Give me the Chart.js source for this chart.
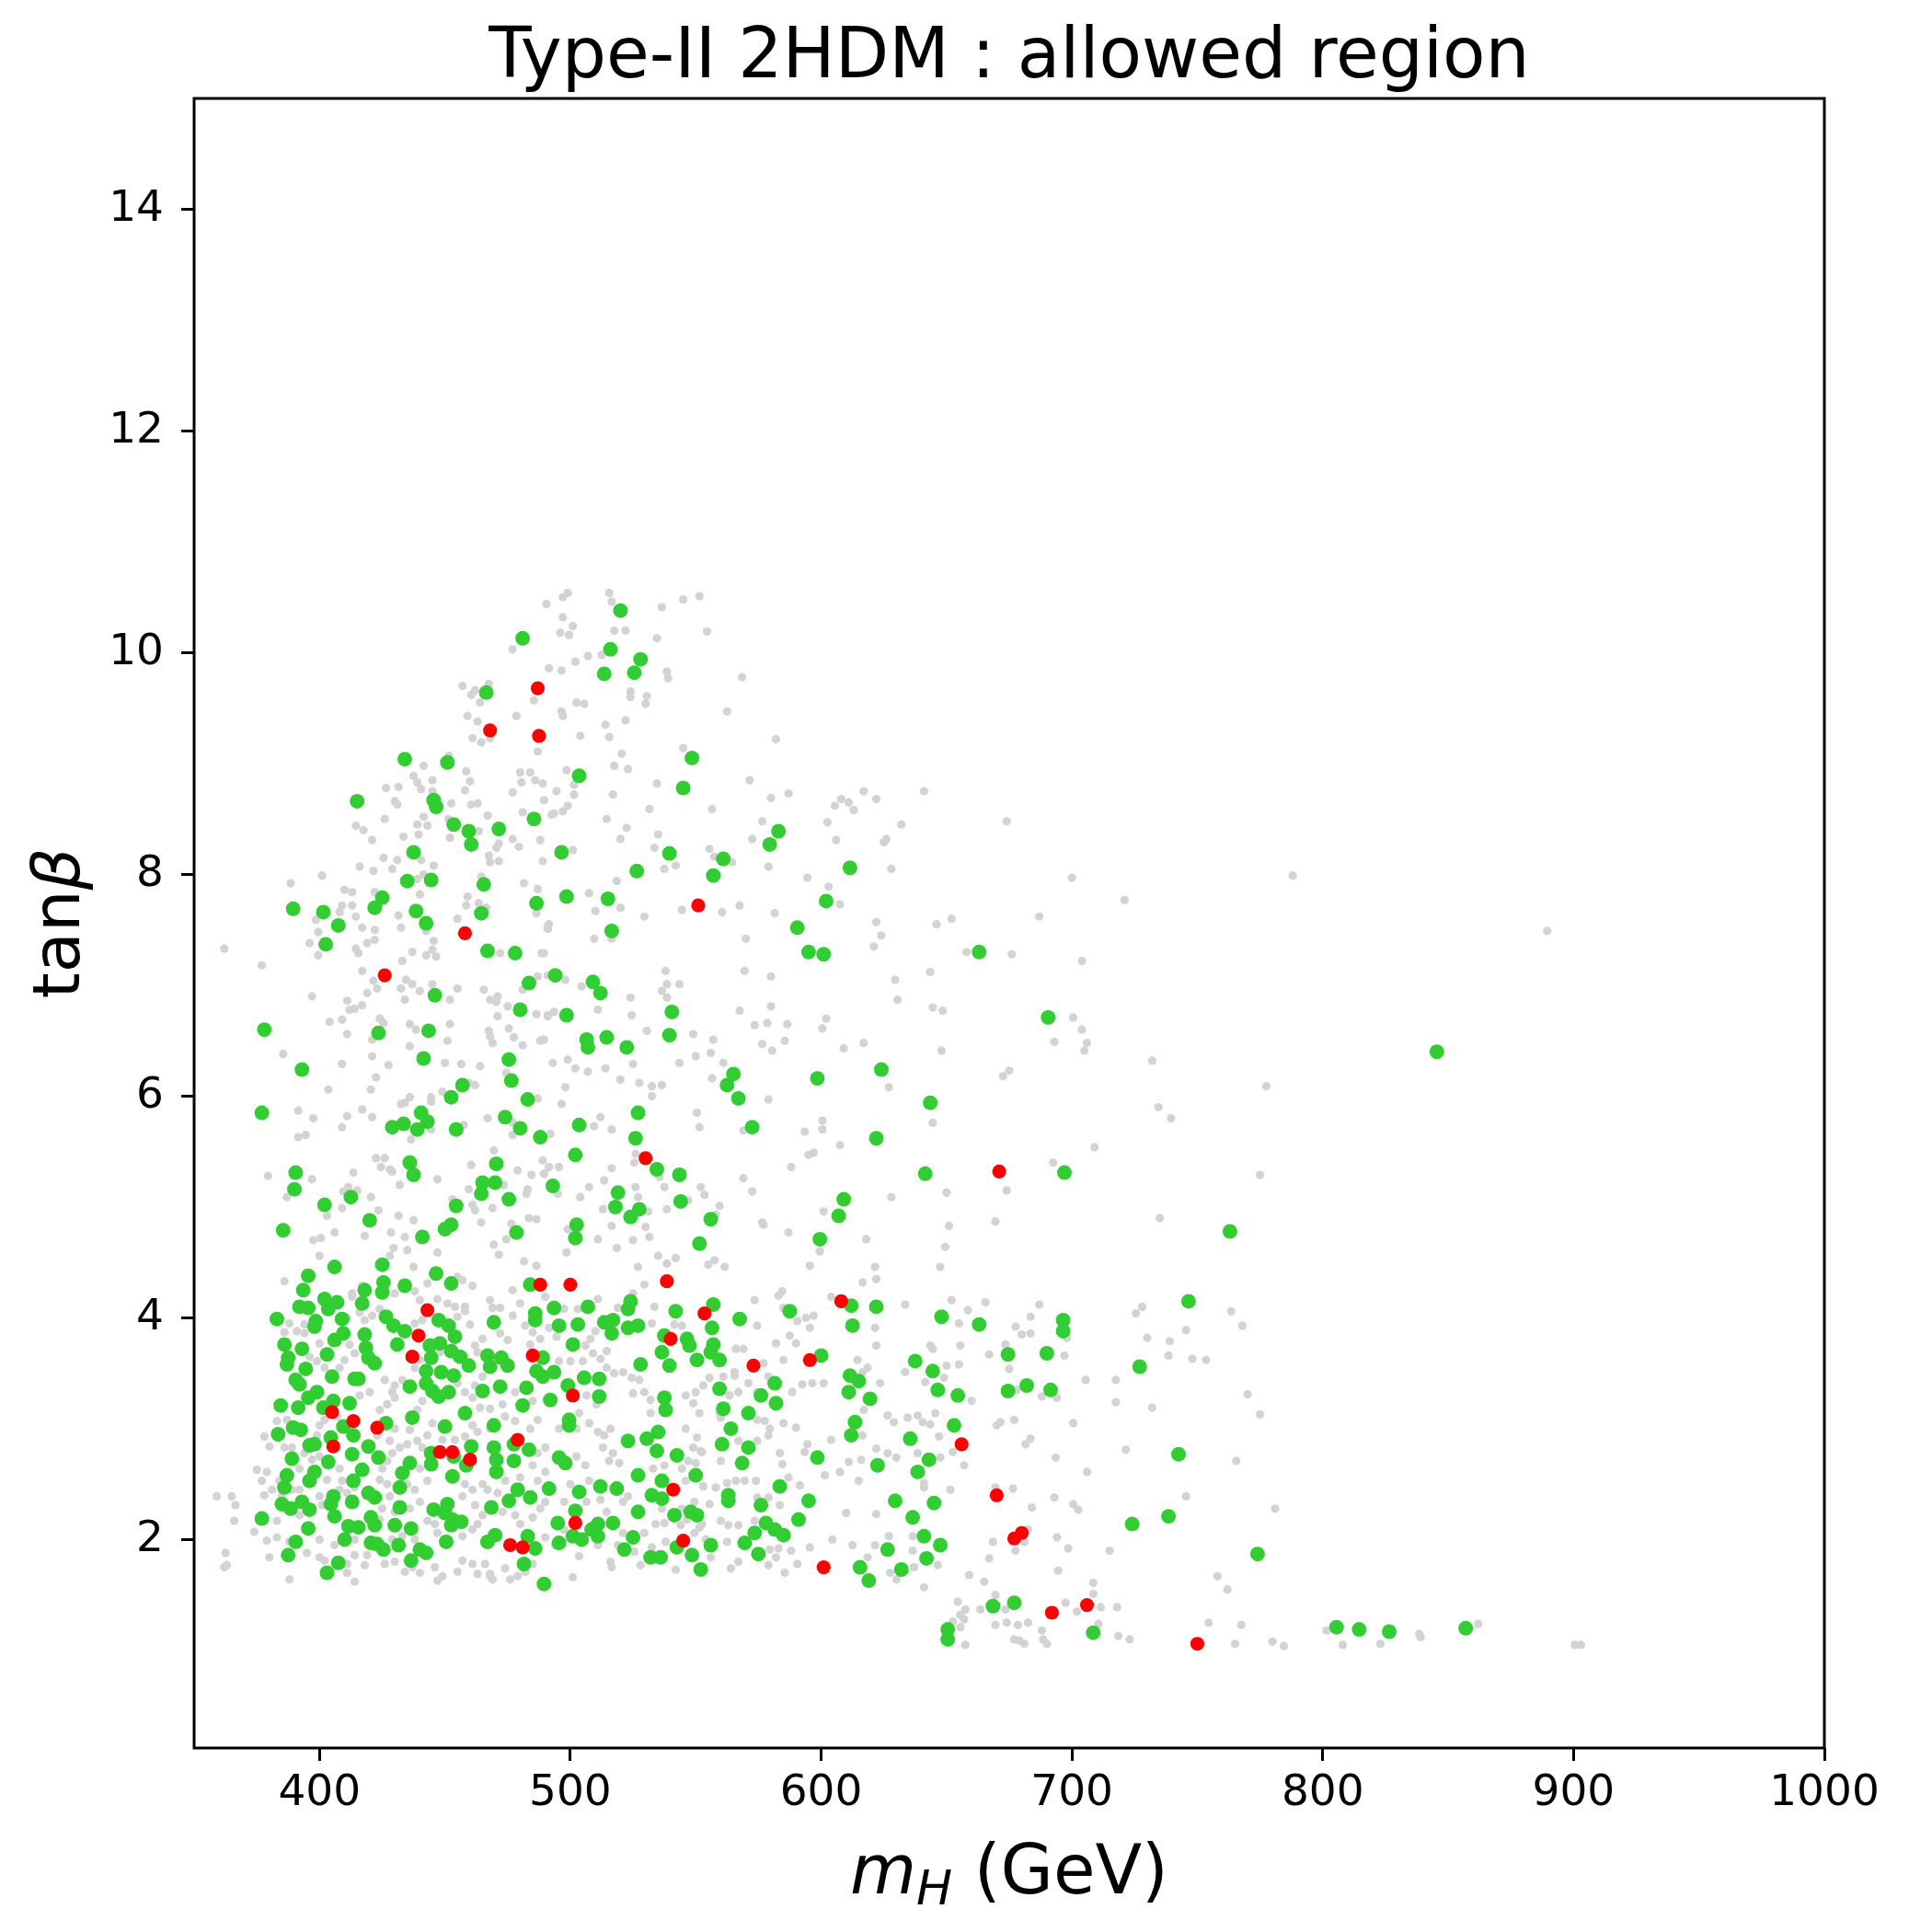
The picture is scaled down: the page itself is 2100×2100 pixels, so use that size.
<!DOCTYPE html>
<html lang="en">
<head>
  <meta charset="UTF-8" />
  <title>Type-II 2HDM : allowed region</title>
  <script src="https://cdn.jsdelivr.net/npm/chart.js@4.4.1/dist/chart.umd.min.js"></script>
  <style>
    html, body {margin: 0; padding: 0; background: #fff;}
    #wrap {width: 2100px; height: 2100px;}
  </style>
</head>
<body>
  <div id="wrap"><canvas id="scan" width="2100" height="2100"></canvas></div>

  <script>
    // axis ticks
    const xTicks = [400, 500, 600, 700, 800, 900, 1000];
    const yTicks = [2, 4, 6, 8, 10, 12, 14];

    // [m_H (GeV), tan(beta)]
    const grayPts = [
      [386,4.33],[359,2.39],[365,2.39],[366.5,2.31],[366,2.17],[375,2.63],[379,2.61],[378,2.93],[380,2.84],[374,2.07],[379,1.99],[383,2.02],[362.5,1.88],[362,1.75],[363,1.77],[380,1.84],[388,1.64],[395,1.88],[388,1.98],[400,1.84],[402,1.81],[411,1.70],[414,1.62],[411,1.78],[418,1.77],[419,1.86],[426,1.78],[430,1.80],[434,1.71],[437,1.75],[440,1.70],[446,1.75],[447,1.63],[449,1.67],[455,1.71],[457,1.81],[461,1.78],[463,1.69],[466,1.78],[468,1.69],[469,1.64],[474,1.74],[482,1.71],
      [413,4.22],[413,4.19],[417,4.29],[430,4.22],[438,4.24],[440,4.16],[443,4.31],[447,4.17],[451,4.13],[454,4.10],[455,4.37],[457,4.34],[461,4.29],[468,4.16],[469,4.09],[472,4.09],[477,4.25],[480,4.13],[490,4.19],[477,4.02],[482,3.93],[485,3.87],[488,3.81],[484,3.76],[475,3.80],[472,3.86],[465,3.81],[462,3.75],[458,3.65],[463,3.69],[460,3.94],[458,4.06],[455,4.01],[458,4.10],[441,3.98],[438,3.95],[424,4.08],[421,4.02],[418,3.98],[416,4.05],[411,4.00],[412,3.76],[410,3.62],[414,3.68],[408,3.55],[402,3.55],[399,3.61],[396,3.65],[394,3.86],[391,3.88],[386,3.87],[388,3.95],[394,3.94],[400,3.77],
      [426,3.44],[430,3.39],[429,3.33],[433,3.44],[438,3.55],[440,3.62],[448,3.69],[455,3.41],[458,3.33],[462,3.39],[465,3.47],[461,3.28],[464,3.19],[468,3.18],[473,3.22],[478,3.33],[485,3.25],[487,3.08],[484,3.00],[478,3.07],[474,3.11],[468,3.00],[463,2.97],[461,3.03],[458,2.93],[454,2.90],[449,2.90],[445,3.05],[441,3.25],[439,3.17],[430,3.28],[427,3.22],[424,3.17],[420,3.33],[416,3.30],[407,3.11],[402,3.08],[400,3.03],[399,2.94],[387,3.08],[383,3.07],[386,2.83],[389,2.83],[394,2.78],[397,2.72],[400,2.75],[408,2.64],[409,2.53],[403,2.54],[392,2.64],[389,2.45],[384,2.53],[381,2.45],[385,2.39],[392,2.45],[400,2.39],[401,2.31],[408,2.45],[411,2.42],[414,2.47],[425,2.64],[427,2.50],[424,2.54],[427,2.71],[429,2.78],[428,2.89],[432,2.83],[435,2.86],[439,2.89],[441,2.83],[443,2.94],[436,2.99],[430,3.00],[423,2.94],[440,2.64],[443,2.53],[435,2.50],[438,2.45],[440,2.34],[436,2.28],[430,2.25],[425,2.28],[428,2.39],[424,2.18],[443,2.17],[446,2.14],[447,2.06],[457,2.03],[461,2.09],[463,2.14],[465,2.22],[462,2.31],[461,2.45],[458,2.50],[457,2.39],[465,2.50],[467,2.45],[471,2.42],[473,2.25],[478,2.22],[480,2.14],[485,2.20],[488,2.28],[490,2.34],[487,2.53],[490,2.61],[485,2.67],[487,2.78],[490,2.83],[480,2.56],[474,2.53],[490,2.02],[485,1.78],[479,1.67],[476,1.64],[468,1.67],[433,2.03],[438,2.00],[429,2.00],[414,2.00],[414,1.86],[406,1.95],[400,2.00],[392,2.22],[383,2.17],[377,2.53],[378,2.40],
      [616.5,4.32],[622,4.35],[621.5,3.91],[622,3.75],[617,3.17],[622,2.82],[616,2.72],[611,2.70],[607.5,2.61],[615,2.53],[601.5,2.58],[610,2.24],[622,2.23],[621.5,1.95],[618.5,1.84],[612.5,1.95],[604.5,2.00],[595.5,1.93],[590.5,1.78],[585.5,1.70],[588,1.90],[582,1.84],[583,1.92],[579.5,1.91],[579,1.77],[567,1.80],[564,1.74],[562.5,1.98],[556,1.84],[542,1.73],[501,1.66],[516.5,1.75],[516,1.80],[528,1.77],[532.5,1.93],[538,1.98],[537.5,2.15],[544,2.13],[552.5,2.14],[560,2.17],[563,2.13],[567,2.13],[573.5,2.17],[574.5,2.38],[579,2.38],[583.5,2.31],[591.5,2.49],[587,2.56],[574,2.53],[569.5,2.53],[566,2.53],[562.5,2.51],[558,2.47],[553,2.48],[555.5,2.32],[549.5,2.34],[544.5,2.64],[546,2.53],[547,2.71],[550,2.69],[549,2.83],[552,2.80],[550.5,2.92],[546,3.00],[551.5,3.14],[549,3.23],[546,3.30],[550,3.33],[553,3.39],[555.5,3.46],[559.5,3.14],[563.5,3.30],[567,3.33],[565.5,3.48],[561,3.47],[569,3.72],[566,3.72],[573.5,4.16],[574.5,3.93],[583,4.20],[584.5,4.24],[585,4.09],[590.5,3.97],[594,4.00],[597,4.02],[595.5,3.91],[604,4.19],[590,3.77],[587.5,3.84],[582,3.77],[585,3.62],[577,3.59],[565.5,3.51],[571,3.41],[574.5,3.33],[579,3.47],[588.5,3.33],[592.5,3.40],[596.5,3.41],[601,3.41],[614.5,3.62],[616.5,3.51],[623.5,3.41],[618.5,3.55],[616.5,2.94],[604,2.90],[594.5,2.86],[593.5,2.79],[590,3.01],[585,3.05],[577.5,3.07],[574.5,3.08],[579.5,3.00],[579,2.94],[583.5,2.78],[584.5,2.68],[574.5,2.89],[567,2.89],[560,3.10],[560,2.71],[552.5,2.79],[537.5,2.67],[533,2.64],[532,3.14],[532,3.26],[529.5,3.33],[525,3.32],[524.5,3.46],[527.5,3.44],[521,3.51],[517.5,3.50],[514.5,3.55],[512,3.63],[509,3.68],[506,3.75],[508,3.81],[510,3.88],[514.5,3.70],[532.5,3.95],[533.5,4.10],[541.5,3.94],[544.5,3.93],[529.5,4.30],[525,4.22],[519,4.09],[511,4.17],[503,4.08],[497.5,4.08],[494.5,3.83],[491.5,3.91],[500,3.61],[495.5,3.61],[505,3.61],[510.5,3.22],[506.5,3.30],[503.5,3.14],[495.5,3.00],[502.5,3.00],[507.5,3.05],[511,2.97],[513.5,2.94],[516,3.00],[513,2.83],[517,2.78],[519.5,2.69],[515.5,2.71],[506,2.67],[502.5,2.75],[500,2.50],[507.5,2.53],[512,2.36],[521,2.34],[523,2.39],[514.5,2.25],[506.5,2.34],[497.5,2.34],[497.5,2.09],[494,1.95],[503.5,1.85],[511,1.95],[519,1.95],[525.5,1.89],[521,2.06],[529.5,2.06],[534,2.14],[536.5,2.28],[544.5,2.28],[546.5,2.18],[551.5,2.11],[554,2.00],[549.5,2.06],
      [362,7.33],[377,7.18],[396,7.38],[399.5,7.48],[398.5,7.59],[399.5,7.27],[409,7.72],[408,7.66],[413,7.72],[414.5,7.62],[417,7.52],[422,7.50],[419,7.38],[422,7.41],[414.5,7.33],[415.5,7.29],[431.5,7.63],[432.5,7.52],[442.5,7.49],[445.5,7.40],[445,7.32],[442.5,7.27],[446.5,7.26],[437,7.30],[433,7.22],[455,7.60],[458.5,7.72],[463.5,7.74],[466.5,7.70],[472,7.29],[488.5,7.29],[491,7.51],[491.5,7.55],[486.5,7.65],[417,7.13],[421.5,7.04],[423,6.97],[419,6.93],[417,6.82],[411,6.86],[412,6.78],[414,6.79],[434.5,7.05],[437,7.01],[432.5,6.97],[440,6.95],[445,7.01],[455,6.97],[452,6.87],[465.5,6.96],[471,6.90],[468,6.87],[470.5,6.85],[475,6.81],[471,6.72],[481,6.96],[487,7.08],[491,7.09],[486.5,6.74],[491,6.72],[434,6.87],[397,6.90],[404,6.67],[409,6.69],[411,6.56],[424,6.70],[425.5,6.66],[436,6.65],[438.5,6.60],[452,6.65],[451,6.50],[436,6.45],[421,6.51],[467.5,6.59],[468,6.54],[469,6.48],[475.5,6.61],[477.5,6.53],[481,6.46],[488,6.50],[489,6.51],[385.5,6.38],[409,6.29],[421,6.36],[427.5,6.28],[422.5,6.17],[420.5,6.06],[403.5,6.06],[450,6.30],[456.5,6.29],[464,6.27],[474.5,6.21],[462,6.10],[459.5,6.12],[456,6.07],[449,6.04],[444.5,5.99],[444.5,5.95],[436,5.99],[432.5,5.93],[434,5.94],[487,5.98],[391.5,5.87],[397.5,5.80],[411,5.82],[417,5.88],[421,5.81],[409,5.72],[391.5,5.63],[394.5,5.65],[436.5,5.61],[444.5,5.70],[457.5,5.74],[467,5.80],[477,5.76],[477,5.65],[492,5.66],[469.5,5.51],[460.5,5.38],[422.5,5.44],[426,5.44],[424.5,5.36],[428,5.34],[429,5.32],[413.5,5.31],[379.5,5.28],[397,5.25],[432,5.20],[447,5.25],[479,5.33],[489,5.42],[491.5,5.36],[484.5,5.29],[489.5,5.30],[483,5.16],[482.5,5.12],[459.5,5.16],[473.5,5.20],[411.5,5.18],[415,5.15],[409.5,5.14],[387,5.09],[420.5,5.09],[453,5.07],[461,5.02],[462,4.97],[469,4.99],[403,4.92],[409,4.99],[423.5,4.97],[431.5,4.92],[437.5,4.88],[464.5,4.86],[476.5,4.85],[483.5,4.90],[486.5,4.89],[397.5,4.70],[400.5,4.72],[406,4.77],[418,4.74],[428.5,4.77],[434,4.73],[447,4.59],[429.5,4.63],[435,4.61],[469.5,4.66],[474.5,4.71],[471.5,4.57],[481.5,4.51],[486.5,4.47],[400,4.56],[428,4.56],[437.5,4.46],
      [510,7.67],[520,7.70],[529.5,7.62],[544.5,7.68],[560.5,7.66],[567.5,7.72],[581.5,7.65],[607.5,7.73],[622,7.57],[624,7.45],[621,7.35],[491,7.53],[491,7.51],[509.5,7.42],[516.5,7.42],[570,7.42],[489.5,7.29],[569.5,7.13],[580,7.08],[538,7.13],[538.5,7.01],[543.5,7.01],[536.5,6.95],[538.5,6.89],[524,6.89],[504.5,6.99],[498,7.05],[493.5,6.76],[491,6.73],[511,6.78],[524.5,6.73],[530.5,6.59],[549,6.56],[557,6.51],[567.5,6.77],[580,6.81],[573.5,6.64],[578.5,6.66],[586.5,6.65],[585.5,6.50],[576.5,6.47],[580.5,6.41],[602,6.70],[600.5,6.61],[617,6.48],[609,6.43],[550,6.36],[556,6.39],[543.5,6.30],[561,6.30],[489.5,6.51],[493,6.30],[499,6.33],[502,6.25],[507,6.22],[514,6.25],[525,6.29],[520,6.15],[527.5,6.12],[532.5,6.09],[536.5,6.10],[532.5,6.00],[556.5,6.16],[498,6.08],[496.5,5.93],[512,5.81],[509.5,5.73],[516.5,5.70],[550.5,5.85],[551.5,5.72],[579,5.97],[569,5.69],[593.5,5.68],[600.5,5.78],[600.5,5.70],[607.5,5.56],[595,5.47],[597,5.49],[588,5.36],[569,5.26],[572.5,5.14],[552,5.18],[553.5,5.11],[537.5,5.18],[535.5,5.27],[526,5.48],[525.5,5.40],[516.5,5.35],[513.5,5.24],[507.5,5.18],[504,5.09],[495,5.12],[491.5,5.36],[495.5,5.36],[489.5,5.30],[526,5.18],[527,5.09],[531,4.96],[538.5,4.98],[547,5.06],[559.5,5.01],[558,4.93],[513,4.98],[516.5,4.83],[530,4.82],[531.5,4.73],[525,4.70],[511,4.71],[518.5,4.63],[498.5,4.59],[499,4.80],[576.5,4.86],[577,4.84],[587,4.77],[601,4.96],[618,4.71],[599.5,4.60],[595.5,4.47],[535,4.56],[542,4.54],[538.5,4.49],[557.5,4.52],[555,4.48],[561.5,4.46],[527,4.46],[621.5,4.46],
      [490.5,10.44],[491.5,9.86],[477,10.03],[457,9.70],[460.5,9.62],[462,9.66],[467.5,9.72],[464,9.55],[485.5,9.57],[478.5,9.43],[459,9.43],[463,9.38],[461,9.23],[464.5,9.19],[468,9.23],[487,9.11],[451.5,9.07],[441.5,8.98],[437.5,8.89],[439,8.83],[440.5,8.77],[445,8.85],[445,8.75],[458.5,8.93],[460,8.84],[458,8.76],[426.5,8.78],[431.5,8.79],[430,8.66],[431,8.63],[452.5,8.64],[460.5,8.63],[463,8.64],[467,8.53],[480,8.92],[484,8.92],[486,8.85],[489,8.82],[480.5,8.83],[477,8.74],[489.5,8.67],[481,8.56],[492.5,8.54],[426,8.50],[414.5,8.44],[417.5,8.40],[421,8.31],[433.5,8.34],[439.5,8.36],[441.5,8.52],[443,8.44],[439,8.45],[452,8.33],[451.5,8.50],[463.5,8.39],[477,8.32],[479.5,8.25],[470.5,8.24],[471.5,8.28],[467.5,8.17],[468,8.11],[471.5,8.12],[488,8.31],[489,8.12],[425.5,8.15],[431,8.13],[429,8.05],[440.5,8.13],[445.5,8.08],[441.5,8.00],[439,7.96],[416,8.07],[421.5,8.03],[401,7.99],[388.5,7.92],[410,7.86],[413,7.84],[422,7.84],[440,7.82],[464.5,7.98],[481.5,7.92],[487,7.87],[459,7.80],
      [497,10.50],[499,10.54],[515.5,10.54],[516.5,10.46],[545,10.48],[551.5,10.51],[536.5,10.41],[497,10.32],[501,10.24],[496,10.18],[499.5,10.16],[517.5,10.20],[522,10.20],[534.5,10.13],[554.5,10.19],[507,9.97],[512.5,9.98],[502,9.92],[496.5,9.84],[538.5,9.83],[539,9.77],[568.5,9.78],[524,9.65],[524,9.60],[530.5,9.61],[530,9.54],[502.5,9.55],[505.5,9.54],[496.5,9.47],[497,9.43],[562.5,9.47],[514,9.35],[522,9.39],[504,9.25],[515.5,9.24],[582,9.22],[545,9.14],[520.5,9.09],[517.5,8.98],[523,8.95],[498.5,8.94],[494.5,8.75],[501.5,8.81],[501.5,8.72],[499,8.62],[497,8.57],[493.5,8.55],[517,8.72],[534.5,8.82],[531.5,8.59],[556.5,8.59],[571.5,8.85],[580,8.69],[587,8.73],[576.5,8.48],[572.5,8.32],[514.5,8.50],[522.5,8.42],[520,8.32],[535,8.36],[533.5,8.24],[501,8.22],[555.5,8.23],[557.5,8.16],[564.5,8.11],[537.5,8.05],[542,8.08],[579,8.07],[594.5,7.97],[603,7.89],[605.5,8.62],[608,8.68],[602.5,8.47],[606,8.31],[518.5,7.94],[507.5,7.83],[625,8.29],
      [643.5,3.75],[644.5,3.72],[655.5,3.75],[650,3.57],[655,3.58],[633.5,3.51],[641.5,3.42],[649,3.46],[660,3.25],[667,3.67],[673.5,3.76],[680,3.85],[683.5,3.86],[675,3.54],[678,3.35],[688,3.29],[694,3.28],[697,3.66],[698,3.82],[730,3.82],[739,3.79],[738.5,3.66],[748,3.63],[753.5,3.62],[705.5,3.44],[717.5,3.44],[717.5,3.24],[732,3.19],[700.5,3.05],[677,3.08],[671.5,3.06],[670,3.03],[683.5,2.91],[681.5,2.86],[693.5,2.74],[706,2.61],[721.5,2.81],[745.5,2.39],[626.5,3.12],[629,3.06],[634.5,3.10],[638.5,3.12],[640.5,3.06],[643.5,3.04],[645.5,3.14],[647,2.93],[638.5,2.78],[630,2.74],[626.5,2.78],[647.5,2.74],[652.5,2.79],[657,2.67],[641,2.51],[641,2.47],[651.5,2.45],[669.5,2.47],[676.5,2.46],[684,2.29],[693,2.38],[700.5,2.32],[702.5,2.27],[694,2.02],[698.5,1.92],[715,1.90],[668.5,1.98],[667,1.83],[681,1.98],[677.5,1.90],[682.5,2.09],[627,2.03],[636.5,2.03],[636.5,1.90],[646.5,1.77],[637,1.75],[627.5,1.70],[630,1.64],[641,1.57],[694.5,1.72],[659,1.68],[665,1.62],[708.5,1.61],[708.5,1.51],[697.5,1.43],[702,1.35],[711.5,1.39],[718,1.39],[710.5,1.24],[718.5,1.13],[723,1.10],[754.5,1.25],[758,1.67],[654.5,1.44],[657.5,1.37],[655.5,1.32],[652.5,1.26],[657,1.28],[655.5,1.21],[657.5,1.05],[663.5,1.37],[669.5,1.50],[673.5,1.37],[669.5,1.23],[674,1.25],[678.5,1.23],[682.5,1.25],[688,1.18],[688.5,1.10],[690,1.06],[681,1.06],[677,1.10],[679,1.09],
      [629.5,7.05],[643.5,7.12],[630.5,6.87],[644.5,6.80],[648.5,6.77],[648,6.41],[627,6.08],[644.5,5.76],[700.5,6.71],[704,6.60],[706,6.48],[705,6.41],[693,6.49],[672.5,6.18],[675,6.23],[732,6.32],[734.5,5.90],[739.5,5.80],[709,5.54],[692.5,5.40],[674,5.15],[650,5.13],[628,5.09],[669.5,4.87],[651,4.83],[735,4.90],[649.5,4.64],[647.5,4.46],[633.5,4.12],[652,4.16],[658.5,4.07],[665.5,4.14],[655,3.95],[677.5,3.92],[683.5,4.01],[687,4.12],[728,4.10],[725.5,4.04],[745.5,3.89],
      [770,3.31],[775,3.13],[765.5,2.71],[781,2.28],[762,1.55],[767.5,1.23],[765,1.06],[780,1.08],[784.5,1.04],[801.5,1.18],[808,1.05],[823,1.06],[838.5,1.15],[839,1.12],[862,1.24],
      [777.5,6.09],[775,5.29],[763.5,4.06],[768,3.93],
      [611,8.65],[613,8.58],[617,8.75],[622,8.68],[626,8.32],[628,8.05],[632,8.45],[641,8.75],[646,7.55],[652,7.60],[658,7.30],[674,8.48],[676,7.28],[687,7.62],[700,7.97],[704,7.22],[721,7.77],[788,7.99],[889.5,7.49],[900.5,1.05],[903,1.05]
    ];

    const greenPts = [
      [395.5,4.38],[446.5,4.40],[393.5,4.25],[418,4.25],[425.5,4.32],[425,4.23],[434,4.29],[452.5,4.31],[484,4.30],
      [392,4.10],[395.5,4.09],[402,4.17],[407,4.14],[403.5,4.08],[417,4.13],[383,3.99],[398.5,3.97],[398,3.92],[409,3.99],[426.5,4.01],[429.5,3.93],[434,3.88],[447.5,3.98],[451.5,3.93],[454,3.83],[469.5,3.96],[486,4.04],[486,3.98],
      [386,3.76],[393,3.72],[409.5,3.86],[406,3.80],[418,3.85],[418.5,3.73],[419.5,3.64],[422,3.59],[431,3.76],[444,3.75],[448,3.77],[444.5,3.64],[452.5,3.70],[456,3.65],[403,3.67],[387,3.58],[387.5,3.64],[467,3.66],[468,3.56],[472.5,3.64],[475,3.57],[489,3.64],[486.5,3.52],[489,3.47],
      [394.5,3.54],[405,3.47],[390.5,3.44],[392,3.40],[414,3.45],[415.5,3.45],[442.5,3.52],[442.5,3.41],[448.5,3.51],[453.5,3.48],[459.5,3.57],[436,3.38],[445,3.34],[447.5,3.29],[451.5,3.33],[465,3.34],[472,3.38],[482.5,3.37],[481,3.21],
      [384.5,3.21],[391.5,3.19],[395.5,3.28],[399,3.33],[405.5,3.25],[401.5,3.19],[412,3.23],[409.5,3.02],[413.5,2.94],[426.5,3.05],[437,3.10],[450,3.02],[458,3.14],[469.5,3.03],[477.5,2.86],[483.5,2.81],
      [383.5,2.95],[389.5,3.01],[392.5,2.99],[404.5,2.92],[396,2.85],[398,2.86],[389,2.73],[403.5,2.70],[413,2.77],[419.5,2.84],[423.5,2.74],[436,2.69],[433,2.60],[444.5,2.78],[444.5,2.68],[460.5,2.84],[453.5,2.75],[458.5,2.67],[469.5,2.83],[470.5,2.72],[470.5,2.61],[477.5,2.71],[453,2.57],
      [387,2.58],[386,2.47],[398,2.61],[396,2.53],[413.5,2.53],[417,2.63],[432,2.47],[419.5,2.42],[422,2.38],[479,2.45],[484,2.38],[475.5,2.35],
      [385,2.32],[388.5,2.28],[393,2.34],[396,2.27],[405.5,2.39],[404.5,2.32],[406,2.21],[413,2.34],[377,2.19],[395.5,2.10],[411.5,2.12],[415.5,2.11],[420.5,2.20],[422,2.13],[430,2.13],[436.5,2.10],[432,2.29],[445.5,2.27],[451,2.32],[450,2.24],[453,2.18],[456.5,2.16],[452.5,2.13],[468.5,2.29],
      [390.5,1.98],[387.5,1.86],[403,1.70],[407.5,1.79],[410,2.00],[420.5,1.97],[423,1.96],[425.5,1.91],[431.5,1.95],[436.5,1.81],[440,1.91],[442.5,1.88],[450.5,1.98],[467,1.98],[470,2.04],[483,2.03],[486,1.92],[481.5,1.78],[489.5,1.60],
      [492,3.26],[491.5,2.46],[493.5,4.09],[507,4.10],[495.5,3.93],[503,3.94],[513.5,3.96],[517,3.98],[516.5,3.86],[523,3.91],[527,3.93],[524,4.15],[523,4.08],[501,3.76],[542,4.06],[557,4.12],[556.5,3.91],[567.5,3.99],[587.5,4.06],[612.5,3.93],[612,4.11],[622,4.10],
      [537.5,3.84],[536.5,3.69],[546.5,3.81],[547.5,3.75],[550.5,3.62],[557,3.76],[556,3.69],[559.5,3.62],[539.5,3.57],[528,3.58],[600,3.66],
      [493.5,3.51],[505.5,3.46],[511.5,3.45],[499,3.39],[511.5,3.29],[537.5,3.28],[538,3.17],[559.5,3.36],[561,3.18],[576,3.30],[581.5,3.41],[582,3.23],[571,3.14],[611.5,3.48],[615,3.43],[611,3.33],[619.5,3.27],
      [499.5,3.08],[499.5,3.03],[564,3.00],[613.5,3.06],[612,2.94],[560.5,2.86],[523,2.89],[530.5,2.91],[535,2.97],[534.5,2.80],[542.5,2.76],[571,2.83],[568.5,2.69],[598.5,2.74],[622.5,2.67],[495.5,2.74],[498,2.69],
      [503.5,2.43],[512,2.48],[518.5,2.46],[527,2.58],[536.5,2.53],[550,2.58],[563,2.40],[563,2.35],[583.5,2.48],[595,2.35],[532.5,2.40],[536.5,2.37],[527,2.25],[502,2.26],[495,2.15],[511,2.14],[517,2.15],[508.5,2.09],[511,2.03],[501,2.03],[504.5,2.00],[495.5,1.97],[525,2.02],[521.5,1.91],[541.5,2.22],[548,2.25],[550.5,2.22],[576,2.31],[578,2.15],[581.5,2.09],[585,2.04],[591,2.18],[573.5,2.06],[569.5,1.97],[575,1.87],[556,1.95],[548.5,1.86],[542.5,1.93],[532,1.84],[536,1.84],[552,1.73],[615.5,1.75],[619,1.63],
      [389.5,7.69],[401.5,7.66],[407.5,7.54],[422,7.70],[425,7.79],[402.5,7.37],[438.5,7.67],[442.5,7.56],[464.5,7.65],[486.5,7.74],[467,7.31],[478,7.29],[483.5,7.02],[480,6.78],[446,6.91],[378,6.60],[423.5,6.57],[443.5,6.59],[441.5,6.34],[475.5,6.33],[393,6.24],[476.5,6.14],[457,6.10],[452.5,5.99],[483,5.97],[377,5.85],[440.5,5.85],[443,5.77],[429,5.72],[433.5,5.75],[439,5.70],[454.5,5.70],[474,5.81],[480,5.71],[488,5.63],[436,5.40],[437.5,5.29],[470.5,5.39],[390.5,5.31],[390,5.16],[412.5,5.09],[402,5.02],[465,5.22],[470,5.22],[464.5,5.12],[475.5,5.07],[454.5,5.01],[420,4.88],[385.5,4.79],[450,4.80],[452.5,4.84],[441,4.73],[478.5,4.77],[406,4.46],[425,4.48],
      [516.5,7.49],[590.5,7.52],[595,7.30],[601,7.28],[494,7.09],[509,7.03],[512,6.93],[498.5,6.73],[540.5,6.76],[539.5,6.55],[506.5,6.51],[507,6.44],[514.5,6.53],[522.5,6.44],[565,6.20],[562.5,6.10],[567,5.98],[598.5,6.16],[624,6.24],[527,5.85],[503.5,5.74],[526,5.62],[572.5,5.72],[622,5.62],[502,5.47],[534.5,5.34],[543.5,5.29],[493,5.19],[519,5.13],[518,5.00],[527.5,4.98],[524,4.91],[544,5.05],[556,4.89],[502.5,4.84],[502,4.72],[551.5,4.67],[609,5.07],[607,4.92],[599.5,4.71],
      [481,10.13],[466.5,9.64],[434,9.04],[451,9.01],[415,8.66],[445.5,8.67],[446.5,8.61],[453.5,8.45],[459.5,8.39],[460.5,8.27],[471.5,8.41],[485.5,8.50],[437.5,8.20],[435,7.94],[444.5,7.95],[465.5,7.91],
      [520,10.38],[516,10.03],[528,9.94],[513.5,9.81],[525.5,9.82],[548.5,9.05],[503.5,8.89],[545,8.78],[496.5,8.20],[539.5,8.19],[561,8.14],[557,7.99],[583,8.39],[579.5,8.27],[526.5,8.03],[611.5,8.06],[498.5,7.80],[515,7.78],[602,7.76],
      [637.5,3.61],[644.5,3.52],[646.5,3.35],[654.5,3.30],[674.5,3.67],[690,3.68],[674.5,3.34],[682,3.39],[691.5,3.35],[727,3.56],[653,3.03],[635.5,2.91],[643,2.72],[638.5,2.61],[742.5,2.77],[629.5,2.35],[645,2.33],[636.5,2.20],[641,2.03],[647.5,1.95],[626.5,1.91],[642,1.83],[632,1.73],[724,2.14],[738.5,2.21],[668.5,1.40],[677,1.43],[650.5,1.19],[650.5,1.10],[708.5,1.16],
      [690.5,6.71],[643.5,5.94],[641.5,5.30],[697,5.31],[746.5,4.15],[648,4.01],[663,3.94],[696.5,3.98],[696.5,3.88],
      [774,1.87],[805.5,1.21],[814.5,1.19],[826.5,1.17],[857,1.20],
      [845.5,6.40],[763,4.78],[663,7.30]
    ];

    const redPts = [
      [488,4.30],[443,4.07],[439.5,3.84],[437,3.65],[485,3.66],[405,3.15],[413.5,3.07],[423,3.01],[405.5,2.84],[479,2.90],[448,2.79],[453,2.79],[460,2.72],[476,1.95],[481,1.93],
      [500,4.30],[538.5,4.33],[553.5,4.04],[540,3.81],[608,4.15],[595.5,3.62],[573,3.57],[501,3.30],[541,2.45],[502,2.15],[545,1.99],[601,1.75],
      [458,7.47],[426,7.09],[551,7.72],[530,5.44],[487,9.68],[468,9.30],[487.5,9.25],
      [656,2.86],[670,2.40],[677,2.01],[680,2.06],[692,1.34],[706,1.41],[750,1.06],[671,5.32]
    ];

    const TITLE = 'Type-II 2HDM : allowed region';
    const FONT = '"DejaVu Sans", "Liberation Sans", sans-serif';
    const toXY = pts => pts.map(p => ({x: p[0], y: p[1]}));

    // box around the plot, title centred on the plot box, mathtext-like axis labels
    const framePlugin = {
      id: 'frame',
      afterDraw(chart) {
        const {ctx, chartArea: a} = chart;
        const cx = (a.left + a.right) / 2;
        ctx.save();
        ctx.strokeStyle = '#000';
        ctx.lineWidth = 3;
        ctx.strokeRect(a.left, a.top, a.right - a.left, a.bottom - a.top);

        ctx.fillStyle = '#000';
        ctx.textBaseline = 'alphabetic';

        ctx.textAlign = 'center';
        ctx.font = `76px ${FONT}`;
        ctx.fillText(TITLE, cx, 84);

        ctx.textAlign = 'left';
        // x label: m_H (GeV)
        const big = 74, sub = 52;
        ctx.font = `italic ${big}px ${FONT}`;
        const wm = ctx.measureText('m').width;
        ctx.font = `italic ${sub}px ${FONT}`;
        const wh = ctx.measureText('H').width;
        ctx.font = `${big}px ${FONT}`;
        const wr = ctx.measureText(' (GeV)').width;
        let x = cx - (wm + wh + wr) / 2;
        const base = 2058;
        ctx.font = `italic ${big}px ${FONT}`;
        ctx.fillText('m', x, base);
        x += wm;
        ctx.font = `italic ${sub}px ${FONT}`;
        ctx.fillText('H', x, base + 12);
        x += wh;
        ctx.font = `${big}px ${FONT}`;
        ctx.fillText(' (GeV)', x, base);

        // y label: tan beta
        const ys = 72;
        ctx.font = `${ys}px ${FONT}`;
        const wt = ctx.measureText('tan').width;
        ctx.font = `italic ${ys}px ${FONT}`;
        const wb = ctx.measureText('β').width;
        ctx.translate(86, (a.top + a.bottom) / 2);
        ctx.rotate(-Math.PI / 2);
        const y0 = -(wt + wb) / 2;
        ctx.font = `${ys}px ${FONT}`;
        ctx.fillText('tan', y0, 0);
        ctx.font = `italic ${ys}px ${FONT}`;
        ctx.fillText('β', y0 + wt, 0);
        ctx.restore();
      }
    };

    const tickGrid = {drawOnChartArea: false, drawTicks: true, tickLength: 14, tickWidth: 3, tickColor: '#000'};
    const plain = v => String(v);

    new Chart(document.getElementById('scan'), {
      type: 'scatter',
      data: {
        datasets: [
          {label: 'excluded', data: toXY(redPts), pointRadius: 7.6, pointHoverRadius: 7.6, backgroundColor: '#ff0000', borderWidth: 0},
          {label: 'allowed', data: toXY(greenPts), pointRadius: 8, pointHoverRadius: 8, backgroundColor: '#32cd32', borderWidth: 0},
          {label: 'scan', data: toXY(grayPts), pointRadius: 4.6, pointHoverRadius: 4.6, backgroundColor: '#d3d3d3', borderWidth: 0}
        ]
      },
      options: {
        responsive: false,
        animation: false,
        devicePixelRatio: 1,
        layout: {padding: {left: 0, right: 117, top: 107, bottom: 0}},
        plugins: {
          legend: {display: false},
          tooltip: {enabled: false},
          title: {display: false}
        },
        scales: {
          x: {
            type: 'linear', min: 350, max: 1000,
            afterBuildTicks: s => { s.ticks = xTicks.map(v => ({value: v})); },
            afterFit: s => { s.height = 200; },
            grid: tickGrid,
            border: {display: false},
            ticks: {color: '#000', font: {family: FONT, size: 47}, padding: 8, maxRotation: 0, autoSkip: false, callback: plain}
          },
          y: {
            type: 'linear', min: 0.12, max: 15,
            afterBuildTicks: s => { s.ticks = yTicks.map(v => ({value: v})); },
            afterFit: s => { s.width = 211; },
            grid: tickGrid,
            border: {display: false},
            ticks: {color: '#000', font: {family: FONT, size: 47}, padding: 19, autoSkip: false, callback: plain}
          }
        }
      },
      plugins: [framePlugin]
    });
  </script>
</body>
</html>
